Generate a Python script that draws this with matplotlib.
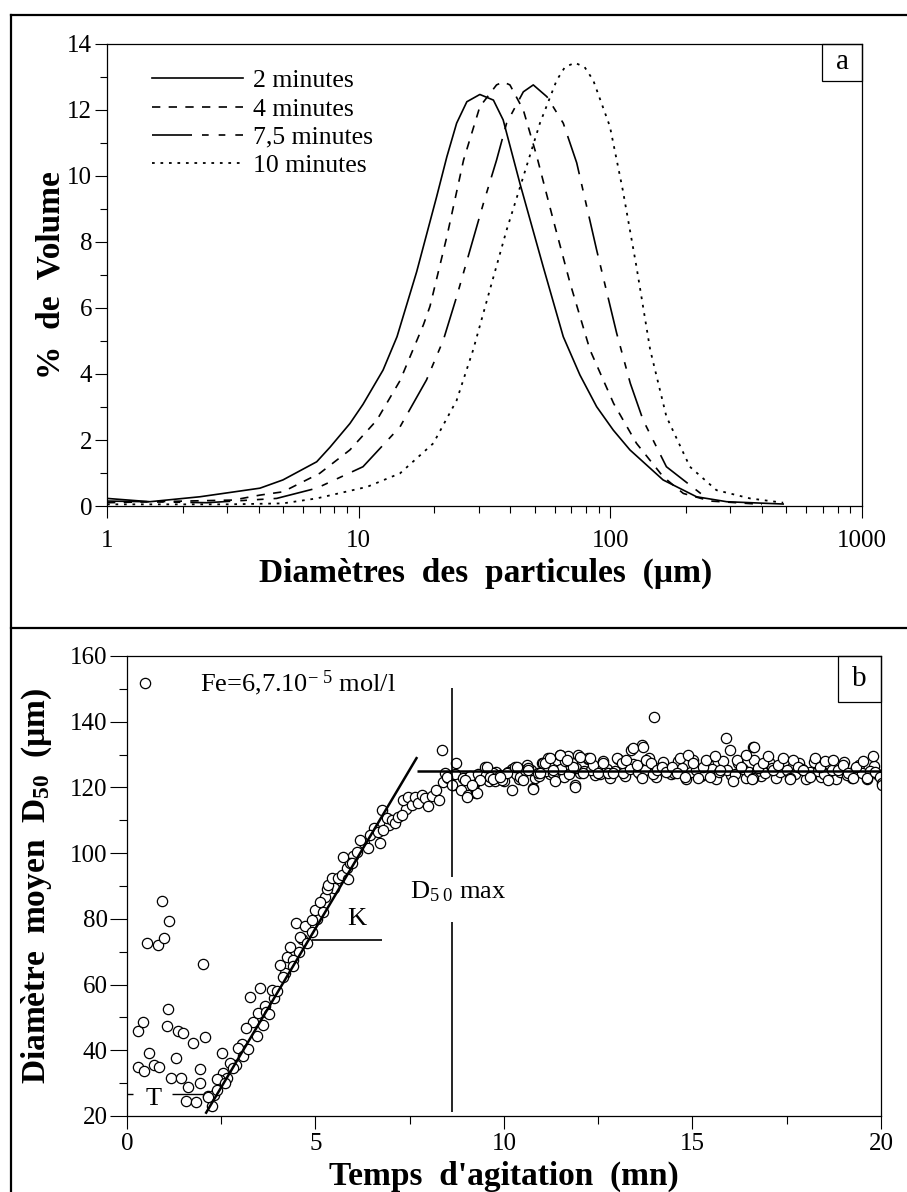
import matplotlib
matplotlib.use('Agg')
import matplotlib.pyplot as plt
from matplotlib.lines import Line2D
from matplotlib.patches import Rectangle
from matplotlib.ticker import FixedLocator, MultipleLocator, NullFormatter, FixedFormatter

plt.rcParams['font.family'] = ['Liberation Serif', 'DejaVu Serif']
plt.rcParams['mathtext.fontset'] = 'custom'
plt.rcParams['mathtext.rm'] = 'Liberation Serif'
plt.rcParams['mathtext.it'] = 'Liberation Serif:italic'
plt.rcParams['mathtext.bf'] = 'Liberation Serif:bold'


##############################
#        DATA - PANEL A      #
##############################
series_labels = ['2 minutes', '4 minutes', '7,5 minutes', '10 minutes']

d_2min = [1.0, 1.48, 2.34, 4.05, 5.0, 6.81, 7.69, 9.23, 10.4, 12.5, 14.2, 17.0, 20.4,
          22.4, 24.5, 26.9, 30.3, 34.3, 37.5, 43.7, 54.1, 65.0, 75.7, 88.2, 102.7, 119.6,
          162, 220, 290, 486]
v_2min = [0.23, 0.13, 0.28, 0.54, 0.79, 1.34, 1.78, 2.50, 3.08, 4.12, 5.13, 7.10, 9.37,
          10.58, 11.6, 12.25, 12.47, 12.3, 11.7, 9.78, 7.25, 5.13, 3.97, 3.01, 2.30, 1.70,
          0.79, 0.28, 0.13, 0.06]

d_4min = [1.0, 3.17, 4.05, 5.0, 7.0, 9.23, 11.8, 14.6, 18.1, 19.2, 22.4, 26.1, 30.3,
          35.3, 37.5, 39.9, 45.1, 51.0, 59.3, 69.2, 83.0, 103, 127, 162, 195, 250, 400]
v_4min = [0.10, 0.18, 0.33, 0.43, 0.99, 1.70, 2.60, 3.80, 5.50, 6.05, 8.16, 10.48, 12.1,
          12.76, 12.85, 12.76, 12.0, 10.6, 8.67, 6.75, 4.73, 3.11, 1.90, 0.89, 0.38, 0.15, 0.05]

d_7min = [1.0, 2.5, 4.72, 6.81, 10.4, 14.6, 18.6, 21.7, 24.5, 27.7, 31.3, 35.3, 38.7,
          45.1, 49.4, 56.0, 65.0, 73.5, 88.2, 106, 120, 135, 167, 233]
v_7min = [0.15, 0.10, 0.23, 0.54, 1.19, 2.40, 3.82, 5.03, 6.34, 7.76, 9.17, 10.48, 11.6,
          12.55, 12.76, 12.4, 11.6, 10.4, 7.76, 5.23, 3.72, 2.60, 1.19, 0.33]

d_10min = [1.0, 3.0, 5.0, 6.81, 10.8, 14.6, 19.8, 24.5, 28.5, 33.2, 38.7, 45.1, 52.5,
           61.2, 66.0, 72.3, 79.0, 85.5, 99.6, 112, 127, 144, 167, 207, 264, 359, 486]
v_10min = [0.05, 0.05, 0.08, 0.23, 0.58, 0.99, 1.90, 3.20, 4.73, 6.55, 8.36, 9.98, 11.6,
           12.9, 13.3, 13.43, 13.3, 12.9, 11.5, 9.58, 7.25, 4.73, 2.71, 1.19, 0.48, 0.23, 0.10]

##############################
#        DATA - PANEL B      #
##############################
early_t = [0.28, 0.30, 0.43, 0.45, 0.52, 0.59, 0.72, 0.83, 0.86, 0.92, 0.98, 1.05, 1.10, 1.11,
           1.16, 1.29, 1.36, 1.42, 1.48, 1.56, 1.63, 1.76, 1.83, 1.94, 1.95, 2.02, 2.07, 2.15]
early_d = [45.9, 35.0, 48.7, 33.8, 72.6, 39.3, 35.5, 72.0, 34.8, 85.4, 74.1, 47.5, 52.5, 79.4,
           31.5, 37.6, 45.9, 31.5, 45.2, 24.7, 28.9, 42.3, 24.1, 34.2, 30.0, 66.3, 43.9, 26.1]

rise_t = [2.25, 2.16, 2.38, 2.47, 2.38, 2.60, 2.51, 2.73, 2.82, 2.95, 3.09, 3.22, 3.17, 3.44,
          3.48, 3.60, 3.70, 3.77, 3.26, 3.53, 3.84, 3.97, 4.13, 4.06, 4.32, 4.41, 4.40, 4.48,
          4.59, 4.72, 4.77, 4.90, 4.90, 4.99, 5.12, 5.21, 5.30, 5.34, 5.43, 5.61, 5.70, 5.87,
          5.83, 5.92, 5.74, 5.96, 6.09, 6.18, 6.40, 6.45, 6.71, 6.67, 6.80, 6.76, 6.89, 7.03,
          7.11, 7.20, 7.29, 7.33, 7.46, 7.55, 7.64, 7.73, 7.82, 7.90, 7.99, 8.08, 8.21, 8.28,
          8.35, 8.43, 8.39, 8.52, 8.66]
rise_d = [23.0, 25.9, 27.9, 31.0, 31.2, 29.9, 39.3, 36.0, 34.5, 40.6, 38.3, 40.3, 46.7, 44.4,
          51.2, 47.6, 51.6, 50.9, 56.3, 58.9, 58.4, 57.9, 62.4, 66.0, 71.3, 67.4, 65.6, 78.6,
          74.6, 77.7, 72.6, 79.6, 76.0, 82.7, 85.2, 82.2, 89.0, 90.3, 92.3, 92.3, 93.3, 92.0,
          95.4, 96.9, 98.9, 96.9, 100.4, 104.0, 101.5, 105.5, 103.0, 106.5, 107.0, 113.1, 110.6, 110.1,
          109.1, 111.1, 111.6, 116.2, 117.2, 114.7, 117.2, 115.2, 117.7, 116.7, 114.2, 117.4, 119.2, 116.2,
          131.4, 124.3, 121.7, 122.8, 120.7]

rise2_t = [2.30, 2.55, 2.65, 2.90, 3.05, 3.35, 3.65, 3.90, 4.20, 4.25,
           4.55, 4.65, 5.05, 5.25, 5.50, 6.00, 6.30, 6.55, 6.95, 7.40]
rise2_d = [26.5, 33.0, 31.5, 35.5, 42.0, 48.5, 53.5, 56.0, 63.5, 68.5,
           70.0, 74.0, 80.0, 86.5, 89.5, 99.0, 103.0, 107.5, 108.5, 113.5]

plateau_t = [8.74, 8.48, 8.61, 8.87, 9.05, 9.27, 9.18, 8.96, 9.36, 9.49, 9.63, 9.76, 9.94, 10.07,
             10.20, 10.29, 10.42, 10.55, 10.64, 10.78, 10.91, 11.04, 11.17, 11.31, 11.35, 11.48, 11.62, 11.70,
             11.84, 11.88, 11.97, 12.10, 12.23, 12.37, 12.50, 12.63, 12.77, 12.90, 12.99, 13.12, 13.25, 13.38,
             13.52, 13.65, 13.65, 13.78, 13.91, 14.05, 14.18, 14.31, 14.45, 14.58, 14.67, 14.80, 14.89, 15.02,
             15.15, 15.28, 15.37, 15.46, 15.59, 15.73, 15.90, 15.99, 16.08, 16.17, 16.30, 16.43, 16.61, 16.61,
             16.74, 16.88, 17.01, 17.14, 17.27, 17.41, 17.58, 17.67, 17.80, 17.94, 18.11, 18.25, 18.38, 18.51,
             18.60, 18.73, 18.87, 19.00, 19.13, 19.26, 19.35, 19.53, 19.62, 19.79, 19.84, 19.97, 20.02,
             13.98, 13.41, 13.68, 16.63, 9.01, 9.28, 10.78, 11.88, 16.57, 17.59, 20.02,
             9.14, 9.54, 9.72, 9.89, 10.34, 10.51, 10.65, 10.96, 11.09, 11.22, 11.49, 11.66, 12.02, 12.28]
plateau_d = [127.4, 123.3, 120.8, 119.2, 117.7, 118.2, 120.3, 122.3, 122.3, 126.3, 123.3, 121.8, 122.3, 124.3,
             119.2, 126.3, 123.3, 125.3, 125.8, 119.7, 124.3, 127.4, 128.9, 125.3, 121.8, 129.9, 127.9, 129.4,
             126.3, 120.8, 129.9, 124.3, 128.9, 126.8, 124.3, 127.4, 124.3, 124.3, 128.9, 127.4, 128.4, 131.4,
             126.8, 132.9, 122.8, 128.4, 127.4, 125.3, 126.3, 124.8, 126.3, 124.3, 128.9, 123.3, 129.9, 127.4,
             122.8, 126.3, 128.4, 123.3, 129.4, 125.3, 135.0, 131.4, 121.8, 128.4, 126.3, 129.9, 132.4, 122.8,
             125.8, 127.4, 129.4, 125.3, 126.8, 128.9, 122.8, 128.4, 126.3, 125.3, 123.3, 128.9, 126.3, 127.9,
             122.3, 128.4, 125.3, 126.8, 124.3, 122.8, 126.3, 127.9, 122.8, 129.4, 124.8, 123.3, 121.3,
             141.5, 131.9, 132.4, 132.4, 117.1, 118.2, 119.4, 120.2, 122.4, 122.4, 120.7,
             120.7, 126.3, 122.7, 123.3, 126.3, 122.2, 125.3, 124.3, 127.3, 128.8, 129.8, 128.3, 129.3, 128.8]

band_t = [8.70, 8.92, 9.10, 9.31, 9.52, 9.70, 9.90, 10.12, 10.33, 10.50, 10.72, 10.93, 11.12, 11.30,
          11.52, 11.73, 11.92, 12.13, 12.32, 12.55, 12.72, 12.95, 13.15, 13.33, 13.55, 13.74, 13.95, 14.12,
          14.35, 14.52, 14.73, 14.95, 15.10, 15.33, 15.52, 15.70, 15.92, 16.12, 16.33, 16.50, 16.70, 16.92,
          17.10, 17.33, 17.52, 17.72, 17.90, 18.13, 18.32, 18.50, 18.70, 18.92, 19.10, 19.30, 19.50, 19.70,
          19.90]
band_d = [124.0, 123.0, 123.5, 124.2, 123.8, 124.5, 123.9, 124.8, 124.0, 124.6, 125.2, 123.6, 125.0, 124.3,
          125.5, 124.1, 125.8, 124.9, 125.3, 124.0, 125.6, 125.1, 124.4, 125.7, 124.6, 125.4, 124.2, 125.9,
          125.0, 124.5, 125.8, 124.8, 125.2, 124.1, 125.6, 124.7, 125.3, 124.2, 125.7, 124.6, 125.1, 124.3,
          125.9, 124.8, 125.2, 124.0, 125.5, 124.6, 125.0, 124.2, 125.4, 124.7, 123.9, 125.3, 124.5, 125.0,
          124.1]

band2_t = [8.80, 9.00, 9.20, 9.41, 9.60, 9.80, 10.01, 10.22, 10.40, 10.61,
           10.82, 11.01, 11.21, 11.41, 11.60, 11.81, 12.02, 12.22, 12.42, 12.62,
           12.82, 13.02, 13.22, 13.42, 13.62, 13.84, 14.02, 14.22, 14.42, 14.62,
           14.83, 15.02, 15.22, 15.42, 15.62, 15.81, 16.02, 16.22, 16.42, 16.62,
           16.82, 17.02, 17.22, 17.42, 17.62, 17.82, 18.02, 18.22, 18.42, 18.62,
           18.82, 19.02, 19.22, 19.42, 19.62, 19.82]
band2_d = [121.5, 122.8, 121.0, 123.5, 122.0, 124.6, 121.8, 125.5, 122.6, 126.8,
           123.0, 127.5, 124.0, 128.2, 123.2, 127.6, 124.5, 128.5, 123.8, 127.9,
           122.9, 128.6, 123.6, 127.2, 124.2, 128.8, 123.1, 127.6, 124.0, 127.9,
           122.7, 128.3, 123.5, 127.0, 122.5, 128.1, 123.9, 127.5, 122.8, 128.4,
           123.4, 127.7, 122.9, 128.0, 123.6, 127.3, 122.6, 127.8, 123.2, 127.1,
           122.4, 127.6, 123.0, 126.9, 122.7, 126.5]

# annotation lines of panel b
fit_t = [2.10, 7.68]
fit_d = [21.0, 128.9]
d50max_level = 125.0
d50max_t = 8.63
k_level, k_t = 73.6, [4.90, 6.76]
t_level = 26.7

##############################
#           FIGURE           #
##############################
fig = plt.figure(figsize=(9.07, 11.92), dpi=100)

# outer frame
frame_kw = dict(transform=fig.transFigure, color='black', lw=1.6)
fig.add_artist(Line2D([0.0121, 0.0121], [0.0, 0.9874], **frame_kw))
fig.add_artist(Line2D([0.0121, 1.0], [0.9874, 0.9874], **frame_kw))
fig.add_artist(Line2D([0.0121, 1.0], [0.4732, 0.4732], **frame_kw))

# ---------- panel a ----------
ax1 = fig.add_axes([0.118, 0.5755, 0.8324, 0.3876])
ax1.set_xscale('log')
ax1.plot(d_2min, v_2min, color='black', lw=1.2, label=series_labels[0])
ax1.plot(d_4min, v_4min, color='black', lw=1.2, dashes=(5, 5), label=series_labels[1])
ax1.plot(d_7min, v_7min, color='black', lw=1.2, dashes=(24, 6, 4, 6, 4, 6), label=series_labels[2])
ax1.plot(d_10min, v_10min, color='black', lw=1.3, dashes=(1.5, 3.2), label=series_labels[3])
ax1.set_xlim(1, 1000)
ax1.set_ylim(0, 14)

ax1.xaxis.set_major_locator(FixedLocator([1, 10, 100, 1000]))
ax1.xaxis.set_major_formatter(FixedFormatter(['1', '10', '100', '1000']))
minor = [m * 10 ** e for e in range(3) for m in range(2, 10)]
ax1.xaxis.set_minor_locator(FixedLocator(minor))
ax1.xaxis.set_minor_formatter(NullFormatter())
ax1.yaxis.set_major_locator(MultipleLocator(2))
ax1.yaxis.set_minor_locator(MultipleLocator(1))
ax1.tick_params(axis='both', which='major', direction='out', length=8.6, width=0.8, labelsize=18)
ax1.tick_params(axis='both', which='minor', direction='out', length=5, width=0.8)
ax1.tick_params(axis='x', which='major', pad=9)
ax1.tick_params(axis='y', which='major', pad=2)
for s in ax1.spines.values():
    s.set_linewidth(0.9)

ax1.legend(loc='upper left', bbox_to_anchor=(0.0596, 0.945), frameon=False, fontsize=18.5,
           handlelength=3.54, handletextpad=0.39, labelspacing=0.2, borderpad=0, borderaxespad=0)

ax1.add_patch(Rectangle((0.947, 0.92), 0.053, 0.08, transform=ax1.transAxes,
                        fill=False, lw=0.9, clip_on=False))
ax1.text(0.9735, 0.96, 'a', transform=ax1.transAxes, ha='center', va='center', fontsize=21)

fig.text(0.535, 0.519, 'Diamètres  des  particules  (µm)', ha='center', va='center',
         fontsize=24, fontweight='bold')
fig.text(0.056, 0.769, '%  de  Volume', ha='center', va='center', rotation=90,
         fontsize=24, fontweight='bold')

# ---------- panel b ----------
ax2 = fig.add_axes([0.140, 0.0638, 0.8313, 0.3859])
mk = dict(ls='none', marker='o', mfc='white', mec='black', ms=7.4, mew=0.9)
ax2.plot(early_t, early_d, **mk)
ax2.plot(rise2_t, rise2_d, **mk)
ax2.plot(rise_t, rise_d, **mk)
ax2.plot(band2_t, band2_d, **mk)
ax2.plot(band_t, band_d, **mk)
ax2.plot(plateau_t, plateau_d, **mk)

ax2.plot(fit_t, fit_d, color='black', lw=1.8, zorder=5)
ax2.hlines(d50max_level, fit_t[1], 20, color='black', lw=1.8, zorder=5)
ax2.vlines([d50max_t, d50max_t], [92.7, 21.3], [150.3, 79.0], color='black', lw=1.2, zorder=5)
ax2.hlines(k_level, k_t[0], k_t[1], color='black', lw=1.2, zorder=5)
ax2.hlines([t_level, t_level], [0.0, 1.19], [0.16, 2.02], color='black', lw=1.0, zorder=5)

ax2.text(6.09, 80.0, 'K', ha='center', va='center', fontsize=19)
ax2.text(0.70, 25.2, 'T', ha='center', va='center', fontsize=19)
ax2.text(7.52, 86.3, r'D$_{5\ 0}$ max', ha='left', va='baseline', fontsize=19)

ax2.set_xlim(0, 20)
ax2.set_ylim(20, 160)
ax2.xaxis.set_major_locator(MultipleLocator(5))
ax2.xaxis.set_minor_locator(MultipleLocator(2.5))
ax2.yaxis.set_major_locator(MultipleLocator(20))
ax2.yaxis.set_minor_locator(MultipleLocator(10))
ax2.tick_params(axis='x', which='major', direction='out', length=9.4, width=0.8, labelsize=18, pad=3)
ax2.tick_params(axis='x', which='minor', direction='out', length=6, width=0.8)
ax2.tick_params(axis='y', which='major', direction='out', length=12, width=0.8, labelsize=18, pad=2)
ax2.tick_params(axis='y', which='minor', direction='out', length=6, width=0.8)
for s in ax2.spines.values():
    s.set_linewidth(0.9)

fe_handle = Line2D([], [], **mk)
ax2.legend(handles=[fe_handle], labels=[r'Fe=6,7.10$^{-\ 5}$ mol/l'], loc='upper left',
           bbox_to_anchor=(0.0064, 0.972), frameon=False, fontsize=19, handlelength=1.0,
           handletextpad=1.58, borderpad=0, borderaxespad=0)

ax2.add_patch(Rectangle((0.943, 0.90), 0.057, 0.10, transform=ax2.transAxes,
                        fill=False, lw=0.9, clip_on=False))
ax2.text(0.9715, 0.95, 'b', transform=ax2.transAxes, ha='center', va='center', fontsize=21)

fig.text(0.556, 0.0134, "Temps  d'agitation  (mn)", ha='center', va='center',
         fontsize=24, fontweight='bold')
fig.text(0.040, 0.257, r'Diamètre  moyen  $\mathbf{D_{50}}$  (µm)', ha='center', va='center',
         rotation=90, fontsize=24, fontweight='bold')

fig.savefig('out.png', dpi=100)
